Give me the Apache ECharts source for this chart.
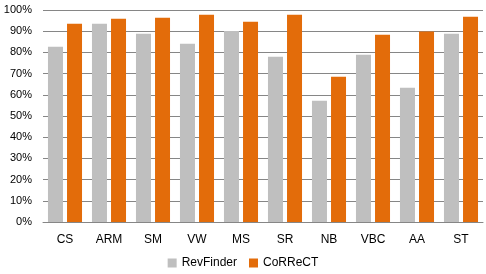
<!DOCTYPE html>
<html><head><meta charset="utf-8">
<script src="https://cdn.jsdelivr.net/npm/echarts@6/dist/echarts.min.js"></script>
<style>html,body{margin:0;padding:0;background:#fff}#c{width:486px;height:274px}</style>
</head><body><div id="c"></div>
<script>
var categories = ['CS','ARM','SM','VW','MS','SR','NB','VBC','AA','ST'];
var revFinder = [82.7,93.5,88.8,84.1,90.1,78.0,57.2,78.9,63.3,88.8];
var correct = [93.5,95.9,96.4,97.8,94.5,97.8,68.5,88.3,89.9,96.8];
var seriesNames = ['RevFinder','CoRReCT'];

var chart = echarts.init(document.getElementById('c'), null, {renderer:'canvas'});
var font = 'Liberation Sans';
chart.setOption({
  animation:false,
  grid:{left:43,right:3,top:10,bottom:52,containLabel:false},
  legend:{bottom:0,left:'center',itemWidth:9,itemHeight:9,itemGap:12,
    textStyle:{fontFamily:font,fontSize:12,color:'#000'},icon:'rect',
    data:seriesNames},
  xAxis:{type:'category',data:categories,
    axisLine:{lineStyle:{color:'#868686',width:1}},axisTick:{show:false},
    axisLabel:{fontFamily:font,fontSize:12,color:'#000',margin:12}},
  yAxis:{type:'value',min:0,max:100,interval:10,
    axisLine:{show:false},axisTick:{show:false},
    axisLabel:{formatter:'{value}%',fontFamily:font,fontSize:11,color:'#000',margin:11},
    splitLine:{lineStyle:{color:'#868686',width:1}}},
  series:[
    {name:seriesNames[0],type:'bar',data:revFinder,barWidth:15,barGap:'27%',itemStyle:{color:'#BFBFBF'}},
    {name:seriesNames[1],type:'bar',data:correct,barWidth:15,itemStyle:{color:'#E36C0A'}}
  ]
});
</script></body></html>
